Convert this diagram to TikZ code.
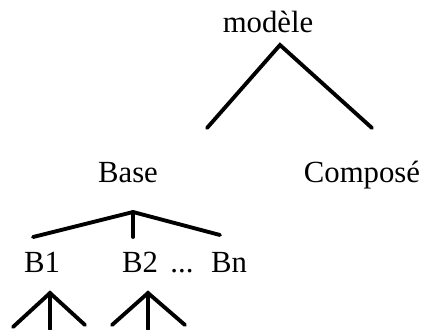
\documentclass[tikz,border=0pt]{standalone}
\usepackage{fontspec}
\setmainfont{Liberation Serif}
\usepackage{tikz}

\begin{document}
\begin{tikzpicture}[
  x=0.02cm, y=-0.02cm,
  font=\fontsize{17.5}{20}\selectfont,
  lbl/.style={anchor=base, inner sep=0pt},
  br/.style={line width=2.2pt, line cap=round, line join=miter}
]
\useasboundingbox (0,0) rectangle (426,329);

% top level
\node[lbl] (modele)  at (268,32)  {modèle};
\node[lbl] (base)    at (128,182) {Base};
\node[lbl] (compose) at (362,182) {Composé};
\coordinate (m0) at (280,45);
\coordinate (m1) at (207,128);
\coordinate (m2) at (372,128);
\draw[br] (m1) -- (m0) -- (m2);

% base level
\node[lbl] (b1)   at (42,272)  {B1};
\node[lbl] (b2)   at (140,272) {B2};
\node[lbl] (dots) at (182,272) {...};
\node[lbl] (bn)   at (229,272) {Bn};
\coordinate (p0) at (133,212);
\coordinate (p1) at (33,237);
\coordinate (p2) at (133,237);
\coordinate (p3) at (220,235);
\draw[br] (p1) -- (p0) -- (p3);
\draw[br] (p0) -- (p2);

% sub-trees
\coordinate (q0) at (50,293);
\coordinate (q1) at (13,327);
\coordinate (q2) at (50,329);
\coordinate (q3) at (85,325);
\draw[br] (q1) -- (q0) -- (q3);
\draw[br] (q0) -- (q2);
\coordinate (r0) at (148,293);
\coordinate (r1) at (112,325);
\coordinate (r2) at (148,329);
\coordinate (r3) at (185,325);
\draw[br] (r1) -- (r0) -- (r3);
\draw[br] (r0) -- (r2);
\end{tikzpicture}
\end{document}
